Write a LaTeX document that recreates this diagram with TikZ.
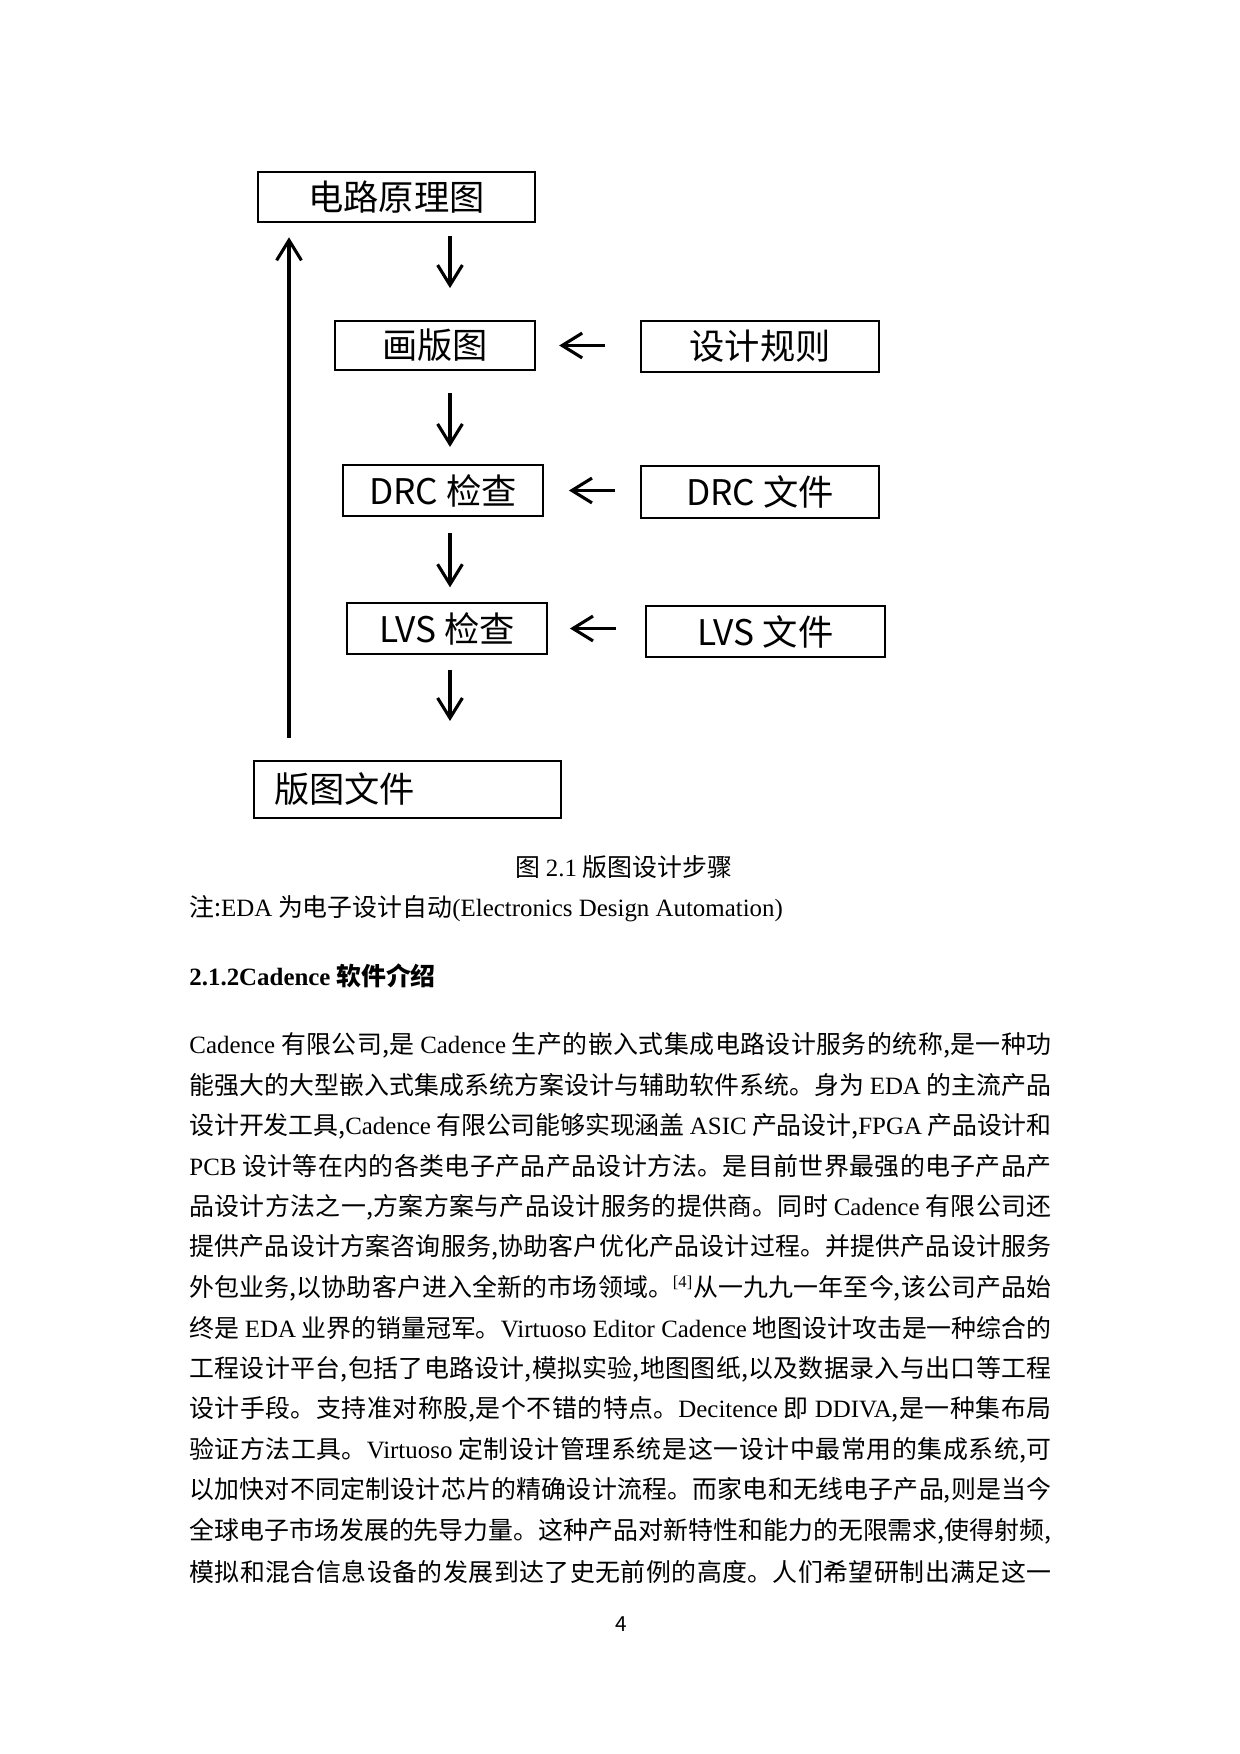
\documentclass[tikz,border=0pt]{standalone}
\usepackage{fontspec}
\setmainfont{Noto Sans CJK SC}
\newfontfamily\latinfont{Liberation Serif}
\newcommand{\entext}[1]{{\latinfont #1}}
\XeTeXlinebreaklocale "zh"
\XeTeXlinebreakskip=0pt plus 2pt minus 0.4pt
\usetikzlibrary{arrows.meta}
\tikzset{
  box/.style={draw,line width=1pt,inner sep=0pt,font=\fontsize{17}{20}\selectfont},
  flow/.style={line width=1.5pt,-{Straight Barb[length=3.4mm,width=4.2mm]}},
  bodyline/.style={anchor=west,inner sep=0pt,text width=146mm,align=justify,
    font=\fontsize{12}{14}\selectfont,execute at begin node={\parfillskip=0pt\relax}},
  plain/.style={anchor=west,inner sep=0pt,font=\fontsize{12}{14}\selectfont}
}

\begin{document}
\begin{tikzpicture}[x=0.16935mm,y=-0.16935mm]
        \useasboundingbox (0,0) rectangle (1240,1754);

        \coordinate (c1) at (396.5,197);
        \coordinate (c2) at (435,345.5);
        \coordinate (c3) at (443,490.5);
        \coordinate (c4) at (447,628.5);
        \coordinate (c5) at (407.5,789.5);
        \coordinate (r2) at (760,346.5);
        \coordinate (r3) at (760,492);
        \coordinate (r4) at (765.5,631.5);
        \coordinate (mid) at (450,0);
        \coordinate (back) at (289,0);

        \node[box,minimum width=46.9mm,minimum height=8.5mm] (sch) at (c1) {电路原理图};
        \node[box,minimum width=33.9mm,minimum height=8.3mm] (plan) at (c2) {画版图};
        \node[box,minimum width=33.9mm,minimum height=8.6mm] (drc) at (c3) {DRC 检查};
        \node[box,minimum width=33.9mm,minimum height=8.6mm] (lvs) at (c4) {LVS 检查};
        \node[box,minimum height=9.65mm,text width=45.2mm,align=left,inner xsep=3.4mm] (gds) at (c5) {版图文件};
        \node[box,minimum width=40.3mm,minimum height=8.6mm] (rules) at (r2) {设计规则};
        \node[box,minimum width=40.3mm,minimum height=8.8mm] (drcf) at (r3) {DRC 文件};
        \node[box,minimum width=40.5mm,minimum height=8.6mm] (lvsf) at (r4) {LVS 文件};

        \draw[flow,shorten <=2.2mm,shorten >=5.4mm] (sch.south -| mid) -- (plan.north -| mid);
        \draw[flow,shorten <=3.7mm,shorten >=2.9mm] (plan.south -| mid) -- (drc.north -| mid);
        \draw[flow,shorten <=2.7mm,shorten >=2.5mm] (drc.south -| mid) -- (lvs.north -| mid);
        \draw[flow,shorten <=2.5mm,shorten >=6.6mm] (lvs.south -| mid) -- (gds.north -| mid);
        \draw[flow,shorten <=5.9mm,shorten >=3.9mm] (rules.west |- plan.east) -- (plan.east);
        \draw[flow,shorten <=4.2mm,shorten >=4.2mm] (drcf.west |- drc.east) -- (drc.east);
        \draw[flow,shorten <=4.9mm,shorten >=3.7mm] (lvsf.west |- lvs.east) -- (lvs.east);
        \draw[flow,shorten <=3.7mm,shorten >=2.4mm] (gds.north -| back) -- (sch.south -| back);

        \node[plain] (caption) at (515,867) {图 \entext{2.1} 版图设计步骤};
        \node[plain] (note) at (189,909) {注:\entext{EDA} 为电子设计自动\entext{(Electronics Design Automation)}};
        \node[plain,font=\fontsize{12}{14}\selectfont\bfseries] (heading) at (189,976) {\entext{2.1.2Cadence} 软件介绍};

        \foreach \txt [count=\k] in {
          {\entext{Cadence} 有限公司,是 \entext{Cadence} 生产的嵌入式集成电路设计服务的统称,是一种功},
          {能强大的大型嵌入式集成系统方案设计与辅助软件系统。身为 \entext{EDA} 的主流产品},
          {设计开发工具,\entext{Cadence} 有限公司能够实现涵盖 \entext{ASIC} 产品设计,\entext{FPGA} 产品设计和},
          {\entext{PCB} 设计等在内的各类电子产品产品设计方法。是目前世界最强的电子产品产},
          {品设计方法之一,方案方案与产品设计服务的提供商。同时 \entext{Cadence} 有限公司还},
          {提供产品设计方案咨询服务,协助客户优化产品设计过程。并提供产品设计服务},
          {外包业务,以协助客户进入全新的市场领域。\entext{\textsuperscript{[4]}}从一九九一年至今,该公司产品始},
          {终是 \entext{EDA} 业界的销量冠军。\entext{Virtuoso Editor Cadence} 地图设计攻击是一种综合的},
          {工程设计平台,包括了电路设计,模拟实验,地图图纸,以及数据录入与出口等工程},
          {设计手段。支持准对称股,是个不错的特点。\entext{Decitence} 即 \entext{DDIVA},是一种集布局},
          {验证方法工具。\entext{Virtuoso} 定制设计管理系统是这一设计中最常用的集成系统,可},
          {以加快对不同定制设计芯片的精确设计流程。而家电和无线电子产品,则是当今},
          {全球电子市场发展的先导力量。这种产品对新特性和能力的无限需求,使得射频,},
          {模拟和混合信息设备的发展到达了史无前例的高度。人们希望研制出满足这一}}
          \node[bodyline] (line\k) at (189,{1045+(\k-1)*40.5}) {\txt};

        \node[font=\fontsize{10}{12}\selectfont,inner sep=0pt] (pageno) at (621,1624) {4};
    \end{tikzpicture}
\end{document}
